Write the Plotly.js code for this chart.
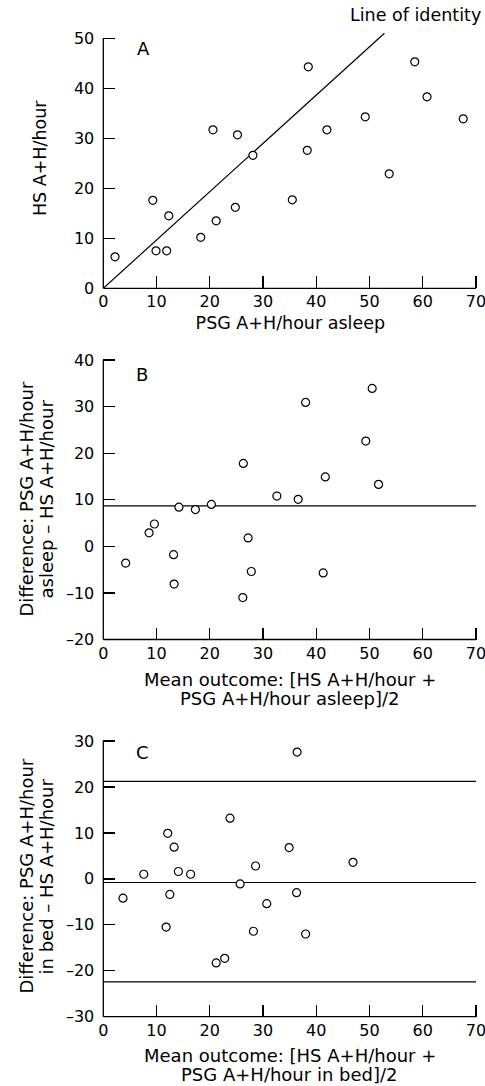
<!DOCTYPE html>
<html><head><meta charset="utf-8">
<script src="https://cdn.plot.ly/plotly-3.0.1.min.js"></script>
<style>html,body{margin:0;padding:0;background:#fff}</style>
</head><body><div id="chart" style="width:485px;height:1086px"></div>
<script>
// Panel A: PSG A+H/hour asleep vs HS A+H/hour
const psgAsleep = [2.2, 9.3, 9.9, 11.9, 12.3, 18.3, 20.6, 21.2, 24.8, 25.2, 28.1, 35.5, 38.3, 38.5, 42.0, 49.2, 53.7, 58.5, 60.8, 67.6];
const hsA = [6.3, 17.6, 7.5, 7.5, 14.5, 10.2, 31.7, 13.5, 16.2, 30.7, 26.6, 17.7, 27.6, 44.3, 31.7, 34.3, 22.9, 45.3, 38.3, 33.9];
const identityX = [0, 52.8];
const identityY = [0, 51];
// Panel B: mean outcome vs difference (asleep)
const meanB = [4.2, 8.6, 9.6, 13.2, 13.3, 14.2, 17.3, 20.3, 26.2, 26.3, 27.2, 27.8, 32.6, 36.6, 38.0, 41.3, 41.7, 49.3, 50.5, 51.7];
const diffB = [-3.6, 2.9, 4.8, -1.8, -8.1, 8.4, 7.9, 9.0, -11.0, 17.8, 1.8, -5.4, 10.8, 10.1, 30.9, -5.7, 14.9, 22.6, 33.9, 13.3];
const meanLineB = 8.7;
// Panel C: mean outcome vs difference (in bed)
const meanC = [3.7, 7.6, 11.8, 12.1, 12.5, 13.3, 14.1, 16.4, 21.2, 22.8, 23.8, 25.7, 28.2, 28.6, 30.7, 34.9, 36.4, 36.3, 38.0, 46.9];
const diffC = [-4.2, 1.0, -10.5, 9.9, -3.4, 6.9, 1.6, 1.0, -18.3, -17.3, 13.2, -1.1, -11.4, 2.8, -5.4, 6.8, 27.6, -3.0, -12.0, 3.6];
const linesC = [21.2, -0.8, -22.4];
const xSpan = [0, 70];
const xTicks = [0, 10, 20, 30, 40, 50, 60, 70];
const yTicksA = [0, 10, 20, 30, 40, 50];
const yTicksB = [-20, -10, 0, 10, 20, 30, 40];
const yTickTextB = ['–20', '–10', '0', '10', '20', '30', '40'];
const yTicksC = [-30, -20, -10, 0, 10, 20, 30];
const yTickTextC = ['–30', '–20', '–10', '0', '10', '20', '30'];
const titleXB = ['Mean outcome: [HS A+H/hour +', 'PSG A+H/hour asleep]/2'];
const titleYB = ['Difference: PSG A+H/hour', 'asleep – HS A+H/hour'];
const titleXC = ['Mean outcome: [HS A+H/hour +', 'PSG A+H/hour in bed]/2'];
const titleYC = ['Difference: PSG A+H/hour', 'in bed – HS A+H/hour'];

const W = 485, H = 1086;
const FONT = 'DejaVu Sans, sans-serif';
const TFS = 17.5, KFS = 16;
const PAD = 0.25; // small range padding so the end ticks are drawn

// axis geometry in pixels: value v0 at pixel p0, value v1 at pixel p1
function xGeom(v0, p0, v1, p1, range) {
  const s = (p1 - p0) / (v1 - v0);
  return {domain: [(p0 + (range[0] - v0) * s) / W, (p0 + (range[1] - v0) * s) / W], range: range};
}
function yGeom(v0, p0, v1, p1, range) { // p0 is bottom pixel (larger)
  const s = (p0 - p1) / (v1 - v0);
  const bot = p0 - (range[0] - v0) * s, top = p0 - (range[1] - v0) * s;
  return {domain: [1 - bot / H, 1 - top / H], range: range};
}
const gx = xGeom(0, 103.3, 70, 476, [0, 70 + PAD]);
const gA = yGeom(0, 288.3, 50, 38.3, [0, 52]);
const gB = yGeom(-20, 639.5, 40, 360, [-20, 40 + PAD]);
const gC = yGeom(-30, 1016.7, 30, 741, [-30, 30 + PAD]);

const mk = {symbol: 'circle', size: 8, color: '#fff', line: {color: '#000', width: 1.2}};
const lineStyle = {color: '#000', width: 1.2};

const traces = [
  {x: identityX, y: identityY, mode: 'lines', line: lineStyle, xaxis: 'x', yaxis: 'y', hoverinfo: 'skip'},
  {x: psgAsleep, y: hsA, mode: 'markers', marker: mk, xaxis: 'x', yaxis: 'y', cliponaxis: false},
  {x: xSpan, y: [meanLineB, meanLineB], mode: 'lines', line: lineStyle, xaxis: 'x2', yaxis: 'y2', hoverinfo: 'skip'},
  {x: meanB, y: diffB, mode: 'markers', marker: mk, xaxis: 'x2', yaxis: 'y2', cliponaxis: false}
];
linesC.forEach(v => traces.push({x: xSpan, y: [v, v], mode: 'lines', line: lineStyle, xaxis: 'x3', yaxis: 'y3', hoverinfo: 'skip'}));
traces.push({x: meanC, y: diffC, mode: 'markers', marker: mk, xaxis: 'x3', yaxis: 'y3', cliponaxis: false});

const axBase = {
  showgrid: false, zeroline: false, showline: false, linecolor: '#000', linewidth: 1.3,
  ticks: 'inside', ticklen: 12, tickwidth: 1.3, tickcolor: '#000', ticklabeloverflow: 'allow',
  tickfont: {family: FONT, size: KFS, color: '#000'}, fixedrange: true, automargin: false
};
function xAx(anchor, title) {
  const a = Object.assign({}, axBase, {domain: gx.domain, range: gx.range, tickmode: 'array', tickvals: xTicks, anchor: anchor, ticklabelstandoff: 2});
  if (title) a.title = {text: title, font: {family: FONT, size: TFS, color: '#000'}, standoff: 6};
  return a;
}
function yAx(anchor, g, ticks, text, title) {
  const a = Object.assign({}, axBase, {domain: g.domain, range: g.range, tickmode: 'array', tickvals: ticks, ticktext: text, anchor: anchor, ticklabelstandoff: 8});
  if (title) a.title = {text: title, font: {family: FONT, size: TFS, color: '#000'}, standoff: 22};
  return a;
}

// axis lines drawn from the first to the last tick value (paper coordinates)
function yPaper(g, v) { return g.domain[0] + (v - g.range[0]) / (g.range[1] - g.range[0]) * (g.domain[1] - g.domain[0]); }
function xPaper(v) { return gx.domain[0] + (v - gx.range[0]) / (gx.range[1] - gx.range[0]) * (gx.domain[1] - gx.domain[0]); }
const axLine = {color: '#000', width: 1.3};
function axisLines(g, yt) {
  const yb = yPaper(g, yt[0]), ytp = yPaper(g, yt[yt.length - 1]);
  const x0 = xPaper(xTicks[0]), x1 = xPaper(xTicks[xTicks.length - 1]);
  return [
    {type: 'line', xref: 'paper', yref: 'paper', x0: x0, x1: x0, y0: yb, y1: ytp, line: axLine},
    {type: 'line', xref: 'paper', yref: 'paper', x0: x0, x1: x1, y0: yb, y1: yb, line: axLine}
  ];
}

const tfont = {family: FONT, size: 18, color: '#000'};
const midX = (xPaper(0) + xPaper(70)) / 2;
function yTitle(lines, centerPx) {
  const xs = [26 / W, 46 / W];
  return lines.map((t, i) => ({text: t, xref: 'paper', yref: 'paper', x: xs[i], y: 1 - centerPx / H, xanchor: 'center', yanchor: 'middle', textangle: -90, showarrow: false, font: tfont}));
}
function xTitle(lines, ys) {
  return lines.map((t, i) => ({text: t, xref: 'paper', yref: 'paper', x: midX, y: 1 - ys[i] / H, xanchor: 'center', yanchor: 'middle', showarrow: false, font: tfont}));
}

const layout = {
  width: W, height: H, margin: {l: 0, r: 0, t: 0, b: 0},
  paper_bgcolor: '#fff', plot_bgcolor: 'rgba(0,0,0,0)', showlegend: false,
  font: {family: FONT, color: '#000'},
  xaxis: xAx('y', 'PSG A+H/hour asleep'),
  yaxis: yAx('x', gA, yTicksA, null, 'HS A+H/hour'),
  xaxis2: xAx('y2', null),
  yaxis2: yAx('x2', gB, yTicksB, yTickTextB, null),
  xaxis3: xAx('y3', null),
  yaxis3: yAx('x3', gC, yTicksC, yTickTextC, null),
  shapes: [].concat(axisLines(gA, yTicksA), axisLines(gB, yTicksB), axisLines(gC, yTicksC)),
  annotations: [
    {text: 'A', xref: 'x', yref: 'y', x: 7.5, y: 48, showarrow: false, font: tfont},
    {text: 'B', xref: 'x2', yref: 'y2', x: 7.3, y: 36.9, showarrow: false, font: tfont},
    {text: 'C', xref: 'x3', yref: 'y3', x: 7.3, y: 27.6, showarrow: false, font: tfont},
    {text: 'Line of identity', xref: 'paper', yref: 'paper', x: 483 / W, y: 1 - 15 / H, xanchor: 'right', yanchor: 'middle', showarrow: false, font: {family: FONT, size: TFS, color: '#000'}}
  ].concat(yTitle(titleYB, 499.5), yTitle(titleYC, 876.5),
           xTitle(titleXB, [679.5, 698.5]), xTitle(titleXC, [1055, 1074.5]))
};

Plotly.newPlot('chart', traces, layout, {displayModeBar: false, staticPlot: true});
</script>
</body></html>
